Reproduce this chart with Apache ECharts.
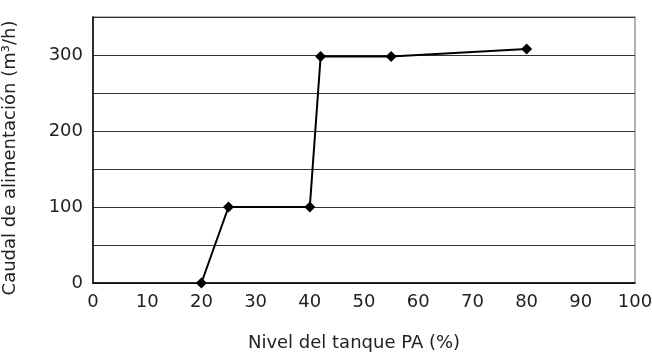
<!DOCTYPE html>
<html>
<head>
<meta charset="utf-8">
<script src="https://cdn.jsdelivr.net/npm/echarts@6/dist/echarts.min.js"></script>
<style>
  html, body { margin: 0; padding: 0; background: #fff; }
  #main { width: 652px; height: 358px; }
</style>
</head>
<body>
<div id="main"></div>
<script>
// datos
var nivel = [20, 25, 40, 42, 55, 80];
var caudal = [0, 100, 100, 298, 298, 308];
var xTicks = [0, 10, 20, 30, 40, 50, 60, 70, 80, 90, 100];
var yTicks = [0, 100, 200, 300];

var chart = echarts.init(document.getElementById('main'));

var font = 'DejaVu Sans, Verdana, sans-serif';

var option = {
    animation: false,
    grid: {
        left: 93, right: 17, top: 17, bottom: 75,
        outerBoundsMode: 'none', containLabel: false,
        show: true, borderColor: '#999', borderWidth: 1.5
    },
    xAxis: {
        type: 'value',
        min: 0, max: 100, interval: 10,
        name: 'Nivel del tanque PA (%)',
        nameLocation: 'middle',
        nameGap: 51,
        nameTextStyle: { fontSize: 18, color: '#222', fontFamily: font, padding: [0, 20, 0, 0] },
        axisLine: { lineStyle: { color: '#000', width: 1.5 } },
        axisTick: { show: false },
        splitLine: { show: false },
        axisLabel: {
            fontSize: 18, color: '#222', fontFamily: font, margin: 10,
            formatter: function (v) { return xTicks.indexOf(v) >= 0 ? String(v) : ''; }
        }
    },
    yAxis: {
        type: 'value',
        min: 0, max: 350, interval: 50,
        name: 'Caudal de alimentación (m³/h)',
        nameLocation: 'middle',
        nameGap: 74,
        nameTextStyle: { fontSize: 18, color: '#222', fontFamily: font, padding: [0, 16, 0, 0] },
        axisLine: { show: true, lineStyle: { color: '#000', width: 1.5 } },
        axisTick: { show: false },
        splitLine: { show: true, lineStyle: { color: '#333', width: 1 } },
        axisLabel: {
            fontSize: 18, color: '#222', fontFamily: font, margin: 10,
            formatter: function (v) { return yTicks.indexOf(v) >= 0 ? String(v) : ''; }
        }
    },
    series: [{
        type: 'line',
        data: nivel.map(function (x, i) { return [x, caudal[i]]; }),
        symbol: 'diamond',
        symbolSize: 11,
        lineStyle: { color: '#000', width: 2 },
        itemStyle: { color: '#000' }
    }]
};

chart.setOption(option);
</script>
</body>
</html>
